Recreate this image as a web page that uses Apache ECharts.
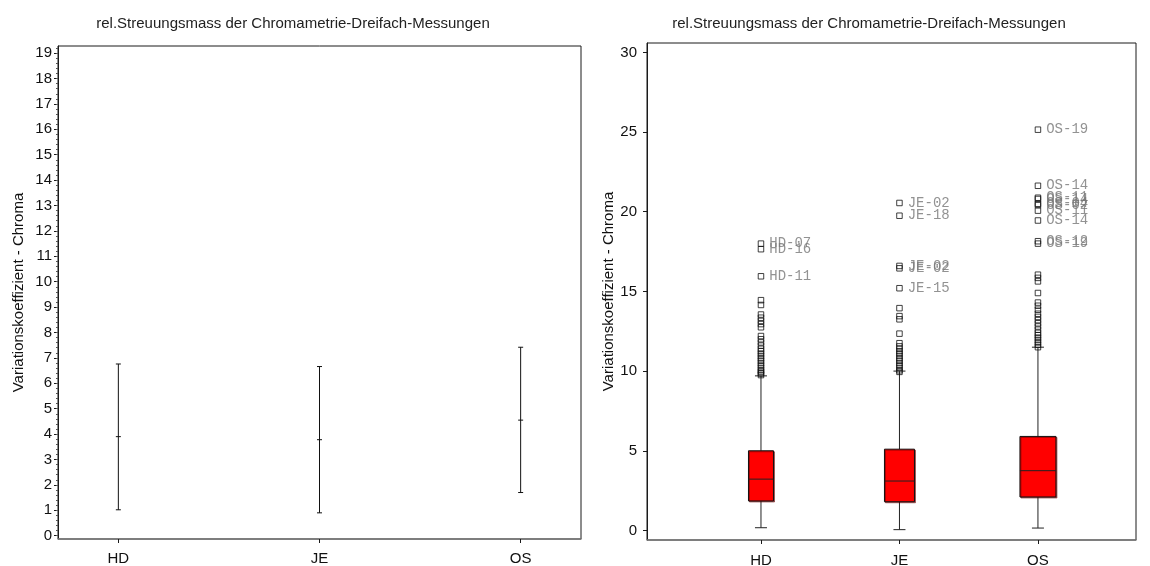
<!DOCTYPE html>
<html>
<head>
<meta charset="utf-8">
<script src="https://cdn.jsdelivr.net/npm/echarts@6/dist/echarts.min.js"></script>
<style>
  html, body { margin: 0; padding: 0; background: #ffffff; }
  #chart { width: 1150px; height: 566px; }
</style>
</head>
<body>
<div id="chart"></div>
<script>
// ---- data -------------------------------------------------------------
const categories = ['HD', 'JE', 'OS'];
const titleText = 'rel.Streuungsmass der Chromametrie-Dreifach-Messungen';
const yAxisTitle = 'Variationskoeffizient - Chroma';

// left panel: mean with lower / upper limit (mean ± SD)
const cvLow  = [1.02, 0.90, 1.70];
const cvMean = [3.90, 3.78, 4.55];
const cvHigh = [6.76, 6.66, 7.42];
const leftTicks = [0, 1, 2, 3, 4, 5, 6, 7, 8, 9, 10, 11, 12, 13, 14, 15, 16, 17, 18, 19];

// right panel: box plot summaries
const boxLow    = [0.17, 0.05, 0.15];
const boxQ1     = [1.85, 1.80, 2.10];
const boxMedian = [3.22, 3.10, 3.75];
const boxQ3     = [5.00, 5.10, 5.90];
const boxHigh   = [9.70, 10.00, 11.50];
const rightTicks = [0, 5, 10, 15, 20, 25, 30];

// outliers per group, with subject ids for the extreme ones
const hdOutliers = [18.00, 17.65, 15.95, 14.45, 14.15, 13.55, 13.35, 13.15, 12.95, 12.75,
  12.2, 12.0, 11.8, 11.6, 11.4, 11.25, 11.1, 10.95, 10.8, 10.65, 10.5, 10.35, 10.2, 10.05, 9.95, 9.85, 9.75];
const hdIds = ['HD-07', 'HD-16', 'HD-11'];
const jeOutliers = [20.55, 19.75, 16.60, 16.45, 15.20, 13.95, 13.45, 13.25, 12.35,
  11.75, 11.55, 11.4, 11.25, 11.1, 10.95, 10.8, 10.65, 10.5, 10.35, 10.2, 10.05, 9.95];
const jeIds = ['JE-02', 'JE-18', 'JE-02', 'JE-02', 'JE-15'];
const osOutliers = [25.15, 21.63, 20.88, 20.80, 20.50, 20.42, 20.07, 19.45, 18.15, 18.00,
  16.05, 15.85, 15.63, 14.9, 14.3, 14.1, 13.85, 13.6, 13.4, 13.2, 13.0, 12.8, 12.6, 12.4,
  12.25, 12.1, 11.95, 11.8, 11.65, 11.5];
const osIds = ['OS-19', 'OS-14', 'OS-11', 'OS-14', 'OS-04', 'OS-02', 'OS-11', 'OS-14', 'OS-12', 'OS-19'];

// ---- chart ------------------------------------------------------------
const FONT = 'Liberation Sans, Arial, sans-serif';
const FONT_SIZE = 15;
const AXIS_DARK = '#1a1a1a';
const AXIS_GREY = '#7a7a7a';
const boxWidthPx = [25, 30, 36];

const catPositions = categories.map((c, i) => i + 1);

function outlierData(values, ids, group) {
  return values.map((v, k) => {
    const id = ids[k] || '';
    return { value: [group, v], name: id, label: { show: id !== '' } };
  });
}
const outliers = []
  .concat(outlierData(hdOutliers, hdIds, 1))
  .concat(outlierData(jeOutliers, jeIds, 2))
  .concat(outlierData(osOutliers, osIds, 3));

const minorLeftTicks = [];
for (let v = 0; v <= 19.2; v += 0.2) minorLeftTicks.push(Math.round(v * 10) / 10);

const chart = echarts.init(document.getElementById('chart'), null, { renderer: 'canvas' });

function xAxisFor(gridIndex, min, max, margin) {
  return {
    type: 'value', gridIndex, min, max,
    axisLine: { show: true, onZero: false, lineStyle: { color: AXIS_GREY, width: 1.5 } },
    axisTick: { show: true, customValues: catPositions, length: 4, lineStyle: { color: AXIS_DARK } },
    axisLabel: {
      customValues: catPositions, margin,
      formatter: v => categories[Math.round(v) - 1] || '',
      color: '#111', fontFamily: FONT, fontSize: FONT_SIZE
    },
    splitLine: { show: false }
  };
}

const titleStyle = { fontFamily: FONT, fontSize: FONT_SIZE, fontWeight: 'normal', color: '#222' };

const option = {
  backgroundColor: '#ffffff',
  animation: false,
  title: [
    { text: titleText, left: 288, top: 11, textAlign: 'center', textStyle: titleStyle },
    { text: titleText, left: 864, top: 11, textAlign: 'center', textStyle: titleStyle }
  ],
  grid: [
    { left: 58, top: 46, width: 523, height: 493, outerBoundsMode: 'none',
      show: true, borderColor: AXIS_DARK, borderWidth: 1 },
    { left: 647, top: 43, width: 489, height: 497, outerBoundsMode: 'none',
      show: true, borderColor: AXIS_DARK, borderWidth: 1 }
  ],
  xAxis: [
    xAxisFor(0, 0.7, 3.3, 12),
    xAxisFor(1, 0.177, 3.708, 13)
  ],
  yAxis: [
    {
      type: 'value', gridIndex: 0, min: -0.13, max: 19.28,
      name: yAxisTitle, nameLocation: 'middle', nameGap: 32, nameRotate: 90,
      nameTextStyle: { fontFamily: FONT, fontSize: FONT_SIZE, color: '#111' },
      axisLine: { show: true, lineStyle: { color: AXIS_DARK } },
      axisTick: { show: true, customValues: leftTicks, length: 4, lineStyle: { color: AXIS_DARK } },
      axisLabel: { customValues: leftTicks, margin: 6, color: '#111', fontFamily: FONT, fontSize: FONT_SIZE },
      splitLine: { show: false }
    },
    {
      type: 'value', gridIndex: 0, min: -0.13, max: 19.28, position: 'left',
      axisLine: { show: false },
      axisTick: { show: true, customValues: minorLeftTicks, length: 2, lineStyle: { color: '#555' } },
      axisLabel: { show: false },
      splitLine: { show: false }
    },
    {
      type: 'value', gridIndex: 1, min: -0.6, max: 30.59,
      name: yAxisTitle, nameLocation: 'middle', nameGap: 31, nameRotate: 90,
      nameTextStyle: { fontFamily: FONT, fontSize: FONT_SIZE, color: '#111' },
      axisLine: { show: true, lineStyle: { color: AXIS_DARK } },
      axisTick: { show: true, customValues: rightTicks, length: 4, lineStyle: { color: AXIS_DARK } },
      axisLabel: { customValues: rightTicks, margin: 10, color: '#111', fontFamily: FONT, fontSize: FONT_SIZE },
      splitLine: { show: false }
    }
  ],
  series: [
    {
      // mean with limits
      type: 'custom', xAxisIndex: 0, yAxisIndex: 0,
      data: categories.map((c, i) => [i + 1, cvLow[i], cvMean[i], cvHigh[i]]),
      encode: { x: 0, y: [1, 2, 3] },
      renderItem: function (params, api) {
        const x = api.value(0);
        const lo = api.coord([x, api.value(1)]);
        const mid = api.coord([x, api.value(2)]);
        const hi = api.coord([x, api.value(3)]);
        const hw = 2.5;
        const st = { stroke: '#111', lineWidth: 1 };
        return {
          type: 'group',
          children: [
            { type: 'line', shape: { x1: lo[0], y1: lo[1], x2: hi[0], y2: hi[1] }, style: st },
            { type: 'line', shape: { x1: lo[0] - hw, y1: lo[1], x2: lo[0] + hw, y2: lo[1] }, style: st },
            { type: 'line', shape: { x1: hi[0] - hw, y1: hi[1], x2: hi[0] + hw, y2: hi[1] }, style: st },
            { type: 'line', shape: { x1: mid[0] - hw, y1: mid[1], x2: mid[0] + hw, y2: mid[1] }, style: st }
          ]
        };
      }
    },
    {
      // box plots
      type: 'custom', xAxisIndex: 1, yAxisIndex: 2,
      data: categories.map((c, i) => [i + 1, boxLow[i], boxQ1[i], boxMedian[i], boxQ3[i], boxHigh[i]]),
      encode: { x: 0, y: [1, 2, 3, 4, 5] },
      renderItem: function (params, api) {
        const x = api.value(0);
        const pLo = api.coord([x, api.value(1)]);
        const pQ1 = api.coord([x, api.value(2)]);
        const pMed = api.coord([x, api.value(3)]);
        const pQ3 = api.coord([x, api.value(4)]);
        const pHi = api.coord([x, api.value(5)]);
        const w = boxWidthPx[params.dataIndex];
        const cx = pLo[0];
        const cap = 6;
        const st = { stroke: '#222', lineWidth: 1 };
        return {
          type: 'group',
          children: [
            { type: 'line', shape: { x1: cx, y1: pLo[1], x2: cx, y2: pQ1[1] }, style: st },
            { type: 'line', shape: { x1: cx, y1: pQ3[1], x2: cx, y2: pHi[1] }, style: st },
            { type: 'line', shape: { x1: cx - cap, y1: pLo[1], x2: cx + cap, y2: pLo[1] }, style: st },
            { type: 'line', shape: { x1: cx - cap, y1: pHi[1], x2: cx + cap, y2: pHi[1] }, style: st },
            {
              type: 'rect',
              shape: { x: cx - w / 2, y: pQ3[1], width: w, height: pQ1[1] - pQ3[1] },
              style: {
                fill: '#ff0000', stroke: '#111', lineWidth: 1,
                shadowColor: 'rgba(110,0,0,0.55)', shadowOffsetX: 1, shadowOffsetY: 1, shadowBlur: 0
              }
            },
            { type: 'line', shape: { x1: cx - w / 2, y1: pMed[1], x2: cx + w / 2, y2: pMed[1] }, style: st }
          ]
        };
      }
    },
    {
      // outliers with subject labels
      type: 'scatter', xAxisIndex: 1, yAxisIndex: 2,
      symbol: 'rect', symbolSize: 5.5,
      itemStyle: { color: 'rgba(0,0,0,0)', borderColor: '#111', borderWidth: 1 },
      label: {
        position: 'right', distance: 5, offset: [0, 3],
        formatter: p => p.name,
        fontFamily: 'Liberation Mono, Courier New, monospace', fontSize: 14, color: '#777'
      },
      labelLayout: { hideOverlap: false },
      emphasis: { disabled: true },
      data: outliers
    }
  ]
};

chart.setOption(option);
</script>
</body>
</html>
